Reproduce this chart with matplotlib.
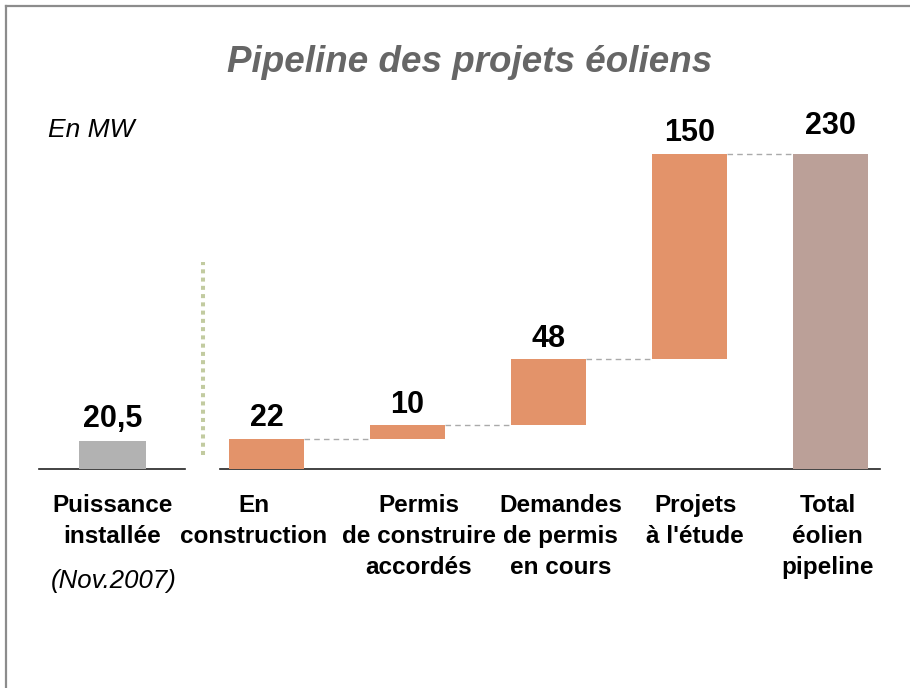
import matplotlib
matplotlib.use("Agg")
import matplotlib.pyplot as plt
from matplotlib.lines import Line2D

plt.rcParams['font.family'] = ['Liberation Sans', 'DejaVu Sans']

# data
installed_label = "Puissance\ninstallée"
installed_date = "(Nov.2007)"
installed_value = 20.5
installed_text = "20,5"

categories = ["En\nconstruction", "Permis\nde construire\naccordés",
              "Demandes\nde permis\nen cours", "Projets\nà l'étude",
              "Total\néolien\npipeline"]
steps = [22, 10, 48, 150]
step_texts = ["22", "10", "48", "150"]
total_value = 230
total_text = "230"

# layout offsets of the category labels (in bar units)
label_shift = [-0.09, 0.08, 0.085, 0.04, -0.02]

ORANGE = "#E3936A"
TOTAL = "#BBA098"
GREY = "#B2B2B2"

W, H = 910, 688
fig = plt.figure(figsize=(W / 100, H / 100), dpi=100)


def fx(px):
    return px / W


def fy(py):
    return (H - py) / H


base_y = 469
scale = 1.37  # px per MW
ymax = 240
ax_bottom = fy(base_y)
ax_height = ymax * scale / H

# waterfall axes
ax = fig.add_axes([fx(220), ax_bottom, fx(660), ax_height])
ax.set_xlim(-0.33, 4.351)
ax.set_ylim(0, ymax)

bottoms = []
level = 0
for v in steps:
    bottoms.append(level)
    level += v
xs = list(range(len(steps)))
bw = 0.532
ax.bar(xs, steps, bottom=bottoms, width=bw, color=ORANGE, zorder=3)
ax.bar([len(steps)], [total_value], width=bw, color=TOTAL, zorder=3)

tops = [b + v for b, v in zip(bottoms, steps)]
for i, t in enumerate(tops):
    ax.plot([i + bw / 2, i + 1 - bw / 2], [t, t], color="#AAAAAA", lw=1,
            dashes=(4, 3), zorder=2)

for i, (t, s) in enumerate(zip(tops, step_texts)):
    ax.annotate(s, (i, t), xytext=(0, 9), textcoords="offset points",
                ha="center", va="baseline", fontsize=22, fontweight="bold")
ax.annotate(total_text, (len(steps), total_value), xytext=(0, 14),
            textcoords="offset points", ha="center", va="baseline",
            fontsize=22, fontweight="bold")

for i, lab in enumerate(categories):
    ax.text(i + label_shift[i], -18, lab, ha="center", va="top",
            fontsize=17.5, fontweight="bold", linespacing=1.46)

# installed axes
ax2 = fig.add_axes([fx(39), ax_bottom, fx(146), ax_height])
ax2.set_xlim(-0.521, 0.514)
ax2.set_ylim(0, ymax)
ax2.bar([0], [installed_value], width=0.475, color=GREY, zorder=3)
ax2.annotate(installed_text, (0, installed_value), xytext=(0, 10),
             textcoords="offset points", ha="center", va="baseline",
             fontsize=22, fontweight="bold")
ax2.text(0, -18, installed_label, ha="center", va="top", fontsize=17.5,
         fontweight="bold", linespacing=1.46)
ax2.text(0.01, -81.5, installed_date, ha="center", va="center", fontsize=18.5,
         style="italic")

for a in (ax, ax2):
    for sp in ("top", "left", "right"):
        a.spines[sp].set_visible(False)
    a.spines["bottom"].set_linewidth(1.2)
    a.spines["bottom"].set_color("#222222")
    a.set_xticks([])
    a.set_yticks([])
    a.patch.set_alpha(0)

# dotted separator
fig.add_artist(Line2D([fx(203), fx(203)], [fy(455), fy(262)], color="#C2CBA0",
                      lw=2.9, dashes=(1, 1.05), solid_capstyle="butt"))

# frame
fig.add_artist(Line2D([fx(6), fx(6)], [fy(6), 0], color="#8C8C8C", lw=1.6))
fig.add_artist(Line2D([fx(6), 1], [fy(6), fy(6)], color="#8C8C8C", lw=1.6))

fig.text(fx(470), fy(72), "Pipeline des projets éoliens", ha="center",
         va="baseline", fontsize=26.5, fontweight="bold", style="italic",
         color="#666666")
fig.text(fx(48), fy(130), "En MW", ha="left", va="center", fontsize=19,
         style="italic")

fig.savefig("out.png", dpi=100)
